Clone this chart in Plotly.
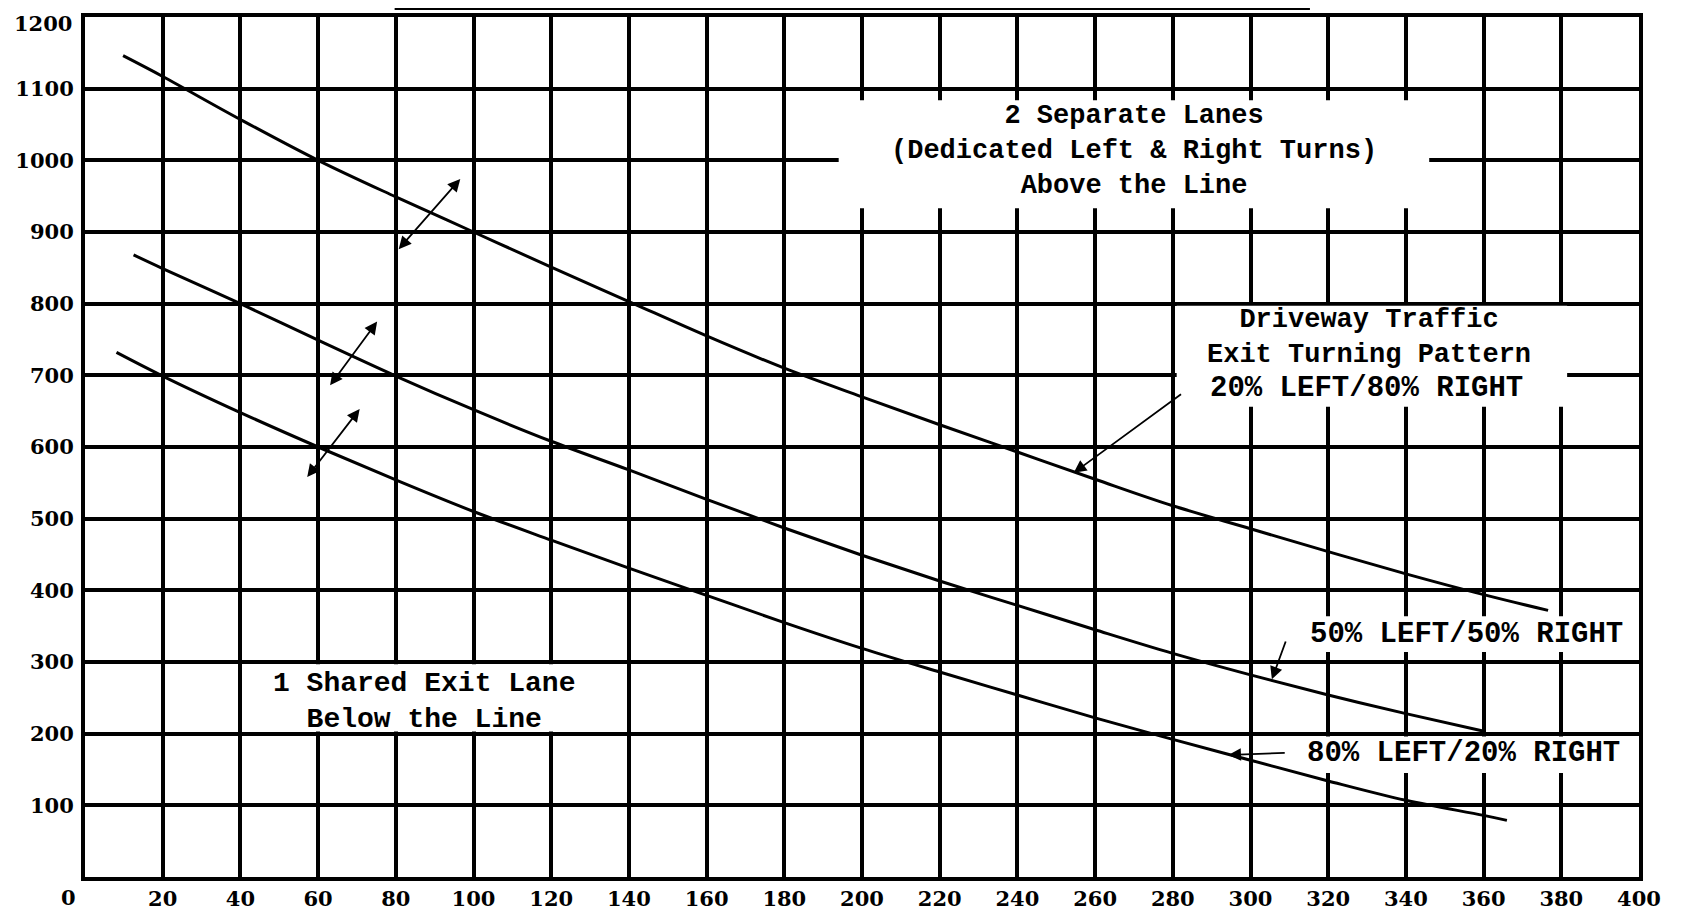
import plotly.graph_objects as go

# ---- data ----
x_20_80 = [9.8, 20, 40, 60, 80, 100, 120, 140, 160, 180, 200, 220, 240, 260, 280, 300, 320, 340, 360, 376.6]
y_20_80 = [1146, 1117, 1057, 1000, 949, 900, 851, 803, 755, 710, 670, 631, 593, 555, 518, 486, 454, 423, 394, 372]

x_50_50 = [12.5, 20, 40, 60, 80, 100, 120, 140, 160, 180, 200, 220, 240, 260, 280, 300, 320, 340, 360.4]
y_50_50 = [868, 849, 800, 749, 699, 652, 608, 568, 527, 487, 449, 413, 379, 345, 312, 282, 254, 228, 203]

x_80_20 = [8.1, 20, 40, 60, 80, 100, 120, 140, 160, 180, 200, 220, 240, 260, 280, 300, 320, 340, 360, 366]
y_80_20 = [732, 699, 648, 600, 554, 510, 470, 431, 393, 355, 319, 286, 254, 222, 192, 163, 134, 107, 86, 79]

x_ticks = list(range(20, 401, 20))
x_tick_labels = [str(v) for v in x_ticks]
y_ticks = list(range(100, 1201, 100))
y_tick_labels = [str(v) for v in y_ticks]

TICK_FONT = "DejaVu Serif"
TEXT_FONT = "Liberation Mono"

fig = go.Figure()
for xs, ys in [(x_20_80, y_20_80), (x_50_50, y_50_50), (x_80_20, y_80_20)]:
    fig.add_trace(go.Scatter(x=xs, y=ys, mode="lines", line=dict(color="black", width=3, shape="spline"),
                             showlegend=False, hoverinfo="skip"))

# white boxes that break the grid behind the labels
boxes = [
    (194, 346, 933, 1084),
    (281, 381.5, 656, 797),
    (301, 400, 314, 364),
    (301, 400, 145, 196),
    (41, 139, 203, 297),
]
shapes = []
for x0, x1, y0, y1 in boxes:
    shapes.append(dict(type="rect", xref="x", yref="y", x0=x0, x1=x1, y0=y0, y1=y1,
                       fillcolor="white", line=dict(width=0), layer="between"))
# stray rule above the chart
shapes.append(dict(type="line", xref="x", yref="paper", x0=79.7, x1=315.3, y0=1.0093, y1=1.0093,
                   line=dict(color="black", width=2)))


def tf(size):
    return dict(family=TEXT_FONT, size=size, color="black")


tick_font = dict(family=TICK_FONT, size=21, color="black")

annotations = [
    dict(x=270, y=1013, xref="x", yref="y",
         text="<b>2 Separate Lanes<br>(Dedicated Left & Right Turns)<br>Above the Line</b>",
         showarrow=False, font=tf(27), align="center"),
    dict(x=330.4, y=752.7, xref="x", yref="y",
         text="<b>Driveway Traffic<br>Exit Turning Pattern</b>",
         showarrow=False, font=tf(27), align="center"),
    dict(x=329.9, y=681, xref="x", yref="y", text="<b>20% LEFT/80% RIGHT</b>",
         showarrow=False, font=tf(29)),
    dict(x=355.5, y=338, xref="x", yref="y", text="<b>50% LEFT/50% RIGHT</b>",
         showarrow=False, font=tf(29)),
    dict(x=354.7, y=172, xref="x", yref="y", text="<b>80% LEFT/20% RIGHT</b>",
         showarrow=False, font=tf(29)),
    dict(x=87.3, y=245, xref="x", yref="y", text="<b>1 Shared Exit Lane<br>Below the Line</b>",
         showarrow=False, font=tf(28), align="center"),
    # corner "0" and top "1200" labels placed as text so they stay inside the page
    dict(x=0, y=0, xref="x", yref="paper", text="<b>0</b>", showarrow=False,
         font=tick_font, xanchor="center", yanchor="top", xshift=-17, yshift=-6),
    dict(x=0, y=1, xref="paper", yref="paper", text=f"<b>{y_tick_labels[-1]}</b>", showarrow=False,
         font=tick_font, xanchor="right", yanchor="top", xshift=-11, yshift=8),
]

# arrows: (head_x, head_y, tail_x, tail_y, double)
arrows = [
    (96.6, 974, 80.4, 874, True),
    (75.2, 775, 62.8, 684, True),
    (70.7, 653, 56.9, 556, True),
    (254.5, 564, 282.5, 675, False),
    (305.5, 275.8, 309.2, 330.7, False),
    (294.3, 170.2, 309.2, 173.4, False),
]
for hx, hy, tx, ty, dbl in arrows:
    annotations.append(dict(x=hx, y=hy, ax=tx, ay=ty, xref="x", yref="y", axref="x", ayref="y",
                            text="", showarrow=True, arrowhead=2, startarrowhead=2, arrowsize=1.4,
                            startarrowsize=1.4, arrowwidth=1.8, arrowcolor="black",
                            arrowside="end+start" if dbl else "end"))

axis_common = dict(showgrid=True, gridcolor="black", gridwidth=3.5, zeroline=False,
                   showline=True, mirror=True, linecolor="black", linewidth=4,
                   ticks="", automargin=False, tickfont=tick_font)

y_ticktext = [f"<b>{t}</b>" for t in y_tick_labels[:-1]] + [""]

fig.update_layout(
    width=1691, height=910,
    margin=dict(l=77, r=60, t=9, b=41, autoexpand=False),
    paper_bgcolor="white", plot_bgcolor="white",
    shapes=shapes, annotations=annotations,
    xaxis=dict(range=[0, 400], tickvals=x_ticks, ticktext=[f"<b>{t}</b>" for t in x_tick_labels],
               **axis_common),
    yaxis=dict(range=[0, 1200], tickvals=y_ticks, ticktext=y_ticktext,
               ticklabelstandoff=3, **axis_common),
)

fig.write_html("out.html")
